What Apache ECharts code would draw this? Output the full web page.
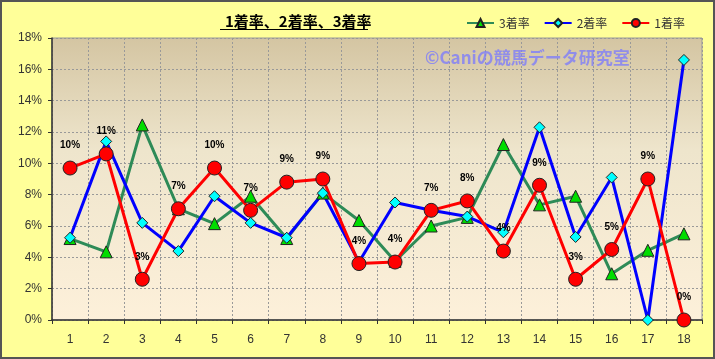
<!DOCTYPE html>
<html><head><meta charset="utf-8">
<script src="https://cdn.jsdelivr.net/npm/echarts@6/dist/echarts.min.js"></script>
<style>html,body{margin:0;padding:0;background:#FFFF99;}#c{width:715px;height:359px;}</style>
</head><body><div id="c"></div>
<script>
const categories = ['1','2','3','4','5','6','7','8','9','10','11','12','13','14','15','16','17','18'];
const win = [9.7,10.6,2.6,7.1,9.7,7.0,8.8,9.0,3.6,3.7,7.0,7.6,4.4,8.6,2.6,4.5,9.0,0];
const place2 = [5.25,11.4,6.2,4.4,7.9,6.2,5.25,8.1,3.7,7.5,7.0,6.6,5.6,12.3,5.3,9.1,0,16.6];
const place3 = [5.2,4.35,12.45,7.1,6.15,7.9,5.2,8.1,6.35,3.75,6.0,6.55,11.2,7.35,7.9,2.95,4.45,5.5];
const yTicks = [0,2,4,6,8,10,12,14,16,18];

const chart = echarts.init(document.getElementById('c'));
const font = '"Liberation Sans", "Noto Sans CJK JP", sans-serif';
chart.setOption({
  backgroundColor: '#FFFF99',
  animation: false,
  textStyle: {fontFamily: font},
  title: {text: '1着率、2着率、3着率', left: 220, top: 9,
    textStyle: {fontSize: 15, fontWeight: 'bold', color: '#000', fontFamily: '"Noto Sans CJK JP", sans-serif'}},
  legend: {
    data: ['3着率','2着率','1着率'], left: 461, top: 12, width: 260, itemGap: 14, itemWidth: 27, itemHeight: 10,
    textStyle: {fontSize: 12, color: '#333', fontFamily: '"Noto Sans CJK JP", sans-serif'}
  },
  graphic: [
    {type: 'rect', shape: {x: 1, y: 1, width: 713, height: 357}, style: {fill: 'none', stroke: '#555', lineWidth: 2}, z: 100},
    {type: 'line', shape: {x1: 220, y1: 29.5, x2: 368, y2: 29.5}, style: {stroke: '#000', lineWidth: 1}, z: 10},
    {type: 'text', left: 425, top: 49, z: 1,
      style: {text: '©Caniの競馬データ研究室', fontSize: 17, fontWeight: 'bold', fill: 'rgba(120,120,255,0.75)', fontFamily: '"Noto Sans CJK JP", sans-serif'}}
  ],
  grid: {left: 52, top: 38, right: 13, bottom: 39, show: true, borderColor: '#999', borderWidth: 1,
    backgroundColor: new echarts.graphic.LinearGradient(0,0,0,1,[{offset:0,color:'#D4C5A2'},{offset:0.4,color:'#EEE5CC'},{offset:1,color:'#FDF0DA'}])},
  xAxis: {type: 'category', data: categories, boundaryGap: true,
    axisLine: {lineStyle: {color: '#333', width: 1.5}},
    axisTick: {show: true, length: 4, lineStyle: {color: '#333'}},
    axisLabel: {color: '#333', fontSize: 12, margin: 14},
    splitLine: {show: true, lineStyle: {color: '#999', type: [2,2]}}},
  yAxis: {type: 'value', min: 0, max: 18, interval: 2,
    axisLine: {show: true, lineStyle: {color: '#333', width: 1.5}},
    axisTick: {show: true, length: 4, lineStyle: {color: '#333'}},
    axisLabel: {color: '#333', fontSize: 12, margin: 10, formatter: v => yTicks.includes(v) ? v + '%' : ''},
    splitLine: {show: true, lineStyle: {color: '#999', type: [2,2]}}},
  series: [
    {name: '3着率', type: 'line', data: place3, symbol: 'triangle', symbolSize: 12,
      lineStyle: {color: '#2E8B57', width: 3}, itemStyle: {color: '#00DD00', borderColor: '#222', borderWidth: 1}},
    {name: '2着率', type: 'line', data: place2, symbol: 'diamond', symbolSize: 11,
      lineStyle: {color: '#0000FF', width: 3}, itemStyle: {color: '#00FFFF', borderColor: '#222', borderWidth: 1}},
    {name: '1着率', type: 'line', data: win, symbol: 'circle', symbolSize: 14,
      lineStyle: {color: '#FF0000', width: 3}, itemStyle: {color: '#FF0000', borderColor: '#222', borderWidth: 1},
      label: {show: true, position: 'top', distance: 10, formatter: p => Math.round(p.value) + '%',
        fontSize: 10, fontWeight: 'bold', color: '#000'}}
  ]
});
</script></body></html>
